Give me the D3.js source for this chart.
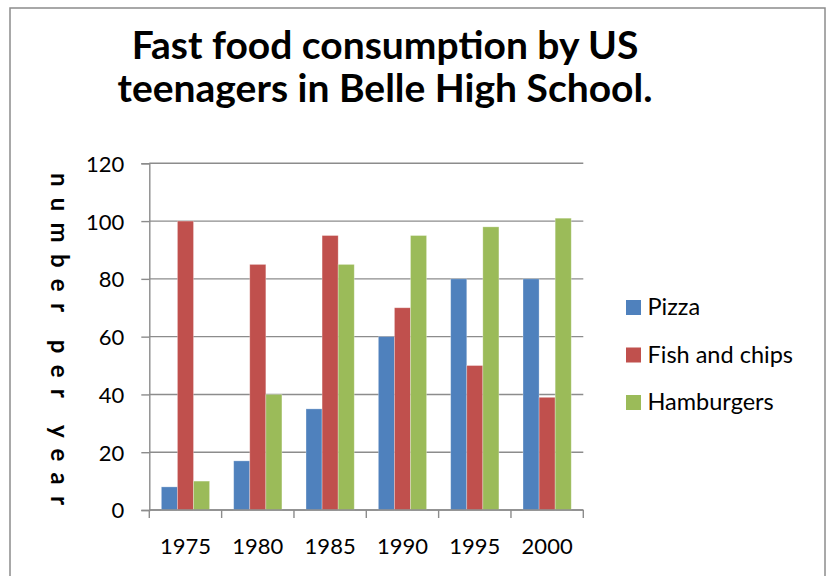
<!DOCTYPE html>
<html>
<head>
<meta charset="utf-8">
<script src="https://cdn.jsdelivr.net/npm/d3@7"></script>
<style>
  body { margin: 0; background: #fff; }
  svg { display: block; }
</style>
</head>
<body>
<div id="chart"></div>
<script>
// data
var years = ["1975", "1980", "1985", "1990", "1995", "2000"];
var seriesNames = ["Pizza", "Fish and chips", "Hamburgers"];
var pizza = [8, 17, 35, 60, 80, 80];
var fishAndChips = [100, 85, 95, 70, 50, 39];
var hamburgers = [10, 40, 85, 95, 98, 101];
var yTicks = [0, 20, 40, 60, 80, 100, 120];
var colors = ["#4F81BD", "#C0504D", "#9BBB59"];

var W = 828, H = 576;
var plot = { left: 149.3, right: 583.3, top: 163.3, bottom: 510 };

var svg = d3.select("#chart")
    .append("svg")
    .attr("width", W)
    .attr("height", H);

// outer frame of the chart area
svg.append("rect")
    .attr("x", 10).attr("y", 8)
    .attr("width", 815).attr("height", 600)
    .attr("fill", "#fff")
    .attr("stroke", "#8c8c8c")
    .attr("stroke-width", 1.5);

// title, two lines
var title = ["Fast food consumption by US", "teenagers in Belle High School."];
svg.selectAll("text.title")
    .data(title)
    .enter()
    .append("text")
    .attr("class", "title")
    .attr("x", 385)
    .attr("y", function (d, i) { return 58.5 + i * 43.4; })
    .attr("text-anchor", "middle")
    .style("font-family", "Lato, sans-serif")
    .style("font-weight", "bold")
    .style("font-size", "39px")
    .style("fill", "#000")
    .text(function (d) { return d; });

// reshape: one row per year with three values
var dataReady = years.map(function (yr, i) {
    return {
        year: yr,
        values: [pizza[i], fishAndChips[i], hamburgers[i]].map(function (v, j) {
            return { name: seriesNames[j], value: v };
        })
    };
});

var x = d3.scaleBand()
    .domain(years)
    .range([plot.left, plot.right])
    .padding(0);

var bw = x.bandwidth();
var gap = bw * 1.5 / 4.5; // excel gap width 150%
var x1 = d3.scaleBand()
    .domain(seriesNames)
    .range([gap / 2, bw - gap / 2])
    .padding(0);

var y = d3.scaleLinear()
    .domain([0, 120])
    .range([plot.bottom, plot.top]);

var color = d3.scaleOrdinal()
    .domain(seriesNames)
    .range(colors);

// gridlines
svg.append("g")
    .selectAll("line")
    .data(yTicks)
    .enter()
    .append("line")
    .attr("x1", plot.left)
    .attr("x2", plot.right)
    .attr("y1", function (d) { return y(d); })
    .attr("y2", function (d) { return y(d); })
    .attr("stroke", "#8c8c8c")
    .attr("stroke-width", 1.4);

// y axis
var yAxis = svg.append("g")
    .attr("transform", "translate(" + plot.left + ",0)")
    .call(d3.axisLeft(y).tickValues(yTicks).tickSize(8).tickPadding(17));
yAxis.select(".domain").attr("stroke", "#8c8c8c").attr("stroke-width", 1.4);
yAxis.selectAll(".tick line").attr("stroke", "#8c8c8c").attr("stroke-width", 1.4);
yAxis.selectAll(".tick text")
    .attr("dy", "0.36em")
    .style("font-family", "Lato, sans-serif")
    .style("font-size", "22px")
    .style("fill", "#000");

// bars
svg.append("g")
    .selectAll("g")
    .data(dataReady)
    .enter()
    .append("g")
    .attr("transform", function (d) { return "translate(" + x(d.year) + ",0)"; })
    .selectAll("rect")
    .data(function (d) { return d.values; })
    .enter()
    .append("rect")
    .attr("x", function (d) { return x1(d.name); })
    .attr("width", x1.bandwidth())
    .attr("y", function (d) { return y(d.value); })
    .attr("height", function (d) { return y(0) - y(d.value); })
    .attr("fill", function (d) { return color(d.name); })
    .attr("stroke", "#fff")
    .attr("stroke-opacity", 0.35)
    .attr("stroke-width", 0.8);

// x axis with ticks on band boundaries
var xAxisG = svg.append("g");
xAxisG.append("line")
    .attr("x1", plot.left).attr("x2", plot.right)
    .attr("y1", plot.bottom).attr("y2", plot.bottom)
    .attr("stroke", "#8c8c8c")
    .attr("stroke-width", 1.4);
var boundaries = years.map(function (d) { return x(d); }).concat([plot.right]);
xAxisG.selectAll("line.xt")
    .data(boundaries)
    .enter()
    .append("line")
    .attr("class", "xt")
    .attr("x1", function (d) { return d; })
    .attr("x2", function (d) { return d; })
    .attr("y1", plot.bottom)
    .attr("y2", plot.bottom + 8)
    .attr("stroke", "#8c8c8c")
    .attr("stroke-width", 1.4);
xAxisG.selectAll("text")
    .data(years)
    .enter()
    .append("text")
    .attr("x", function (d) { return x(d) + bw / 2; })
    .attr("y", 554)
    .attr("text-anchor", "middle")
    .style("font-family", "Lato, sans-serif")
    .style("font-size", "22px")
    .style("fill", "#000")
    .text(function (d) { return d; });

// y axis title, rotated clockwise and spread out
svg.append("text")
    .attr("transform", "translate(51,173) rotate(90)")
    .attr("textLength", 332)
    .attr("lengthAdjust", "spacing")
    .style("font-family", "Lato, sans-serif")
    .style("font-weight", "bold")
    .style("font-size", "24px")
    .style("fill", "#000")
    .text("number per year");

// legend
var legend = svg.append("g")
    .selectAll("g")
    .data(seriesNames)
    .enter()
    .append("g")
    .attr("transform", function (d, i) { return "translate(626," + (300 + i * 47.5) + ")"; });
legend.append("rect")
    .attr("width", 15)
    .attr("height", 15)
    .attr("fill", function (d) { return color(d); });
legend.append("text")
    .attr("x", 21.5)
    .attr("y", 15)
    .style("font-family", "Lato, sans-serif")
    .style("font-size", "23.5px")
    .style("fill", "#000")
    .text(function (d) { return d; });
</script>
</body>
</html>
